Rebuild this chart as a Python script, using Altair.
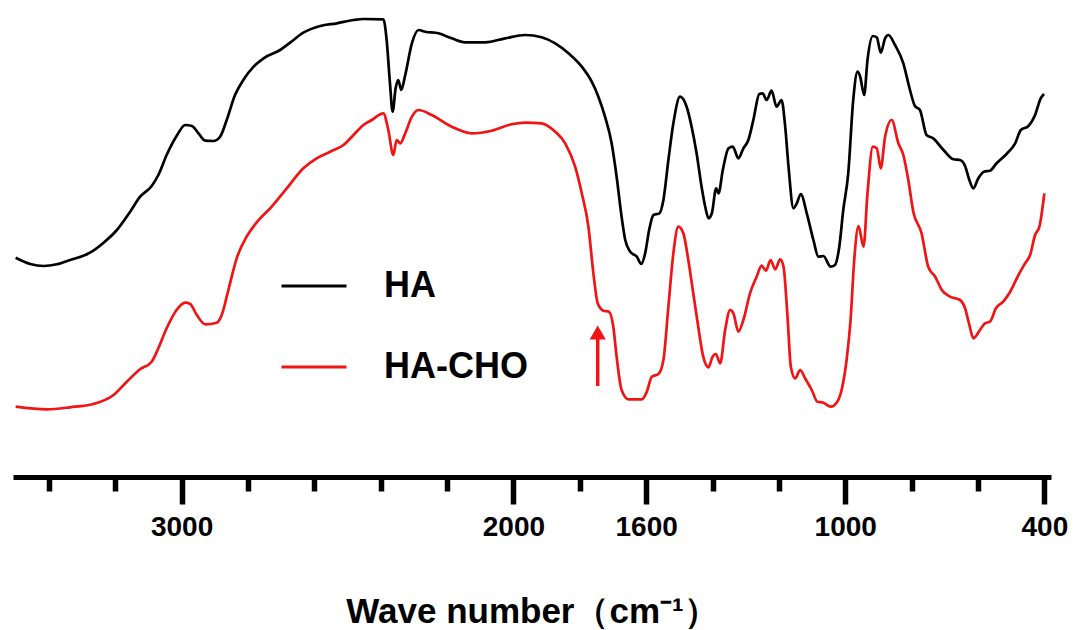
import altair as alt
import pandas as pd

# ---------------- data ----------------
series_names = ["HA", "HA-CHO"]
series_colors = ["#000000", "#f01414"]

ha_wn = [3500, 3456, 3416, 3376, 3336, 3276, 3235, 3195, 3155, 3125, 3090, 3070, 3045, 3015,
         2989, 2969, 2949, 2929, 2904, 2884, 2864, 2839, 2814, 2783, 2753, 2703, 2673, 2633,
         2582, 2532, 2482, 2452, 2392, 2382, 2372, 2364, 2355, 2347, 2338, 2326, 2306, 2286,
         2266, 2226, 2186, 2146, 2085, 2025, 1965, 1915, 1874, 1834, 1794, 1764, 1744, 1724,
         1704, 1689, 1674, 1663, 1648, 1628, 1615, 1603, 1591, 1578, 1560, 1548, 1533, 1518,
         1498, 1478, 1463, 1448, 1433, 1422, 1412, 1402, 1389, 1382, 1369, 1352, 1339, 1322,
         1307, 1292, 1277, 1259, 1249, 1237, 1222, 1207, 1192, 1181, 1171, 1156, 1146, 1134,
         1116, 1096, 1081, 1066, 1044, 1031, 1018, 1006, 991, 976, 963, 955, 943, 933, 917,
         905, 893, 880, 870, 850, 825, 805, 790, 775, 755, 735, 704, 674, 654, 639, 626, 614,
         599, 582, 564, 544, 514, 488, 471, 448, 428, 411, 401]
ha_t = [218.3, 212, 210, 211.7, 216, 223.3, 233.3, 246, 264.3, 279.3, 290, 301, 321, 340,
        351, 350, 342.7, 335.3, 335, 339.3, 356, 381, 396, 409.3, 417.7, 426, 433.3, 443.3,
        450, 452.7, 456, 457, 456.7, 436, 392.7, 364.3, 387.7, 396, 386, 401, 432.7, 446,
        444.3, 442.7, 437.7, 433.7, 433.7, 437.7, 441, 438.7, 432.7, 422.7, 409.3, 394.3, 379.3, 359.3,
        332.7, 299.3, 259.3, 236, 224.3, 219.3, 212, 222.7, 246, 261, 262.7, 276, 316, 352.7,
        379.3, 369.3, 349.3, 322.7, 289.3, 269.3, 257.7, 262.7, 287.7, 282.7, 306, 327.7, 329.3, 317.7,
        327.7, 336, 356, 382, 382.7, 376, 385.3, 369.3, 376, 349.3, 309.3, 267.7, 272.7, 282,
        262.7, 236, 219.3, 220, 209.3, 211, 229.3, 266, 302.7, 376, 404.3, 399.3, 381, 416, 440,
        438.7, 423.3, 437.7, 441, 431, 412.7, 386, 370, 366, 341, 337.7, 326, 316.7, 316, 310, 296, 287.7,
        297.7, 304.3, 305.3, 312.7, 322, 332.7, 346, 350, 361, 377.7, 382]

cho_wn = [3500, 3406, 3336, 3266, 3205, 3165, 3125, 3090, 3070, 3045, 3015, 2989, 2974, 2954,
          2929, 2894, 2879, 2859, 2834, 2804, 2763, 2733, 2683, 2633, 2593, 2552, 2512, 2482,
          2452, 2427, 2392, 2377, 2362, 2352, 2341, 2326, 2306, 2286, 2246, 2186, 2126, 2065,
          2005, 1965, 1915, 1874, 1844, 1814, 1794, 1774, 1759, 1746, 1729, 1712, 1699, 1689,
          1674, 1653, 1613, 1598, 1583, 1563, 1548, 1533, 1518, 1503, 1488, 1473, 1458, 1443,
          1428, 1412, 1400, 1390, 1377, 1362, 1347, 1337, 1322, 1307, 1287, 1267, 1252, 1239,
          1225, 1211, 1196, 1186, 1174, 1164, 1151, 1136, 1121, 1101, 1084, 1066, 1044, 1026,
          1011, 996, 984, 973, 960, 945, 933, 917, 905, 893, 880, 860, 840, 825, 810, 795, 770,
          750, 729, 709, 684, 654, 639, 626, 614, 594, 579, 564, 546, 524, 503, 478, 458, 443,
          428, 415, 400]
cho_t = [69.3, 66.7, 68.7, 72, 81, 94.3, 106.7, 114.3, 127.7, 147.7, 166, 173.3, 172, 161,
         151.7, 153.3, 161, 186, 217.7, 239.3, 257.7, 267.7, 287.7, 307.7, 317.7, 324.3, 331, 341,
         351, 356, 362.7, 346, 321, 336, 332.7, 342.7, 359.3, 366, 361, 349.3, 342.7, 345.3,
         351.7, 353.3, 352.7, 344.3, 332.7, 309.3, 282.7, 249.3, 202.7, 172.7, 165.3, 164.3, 149.3, 119.3,
         86, 76.7, 76.7, 84.3, 99.3, 102, 116, 169.3, 222.7, 249.3, 242.7, 216, 182.7, 149.3,
         119.3, 108.7, 119.3, 122, 112.7, 146, 166, 162.7, 144.3, 156, 182.7, 199.3, 210.3, 205.3,
         216, 206.7, 216.7, 209.3, 159.3, 109.3, 97.7, 106, 97.7, 86, 74.3, 73.3, 69.3, 73.3,
         86, 116, 156, 216, 250, 229.3, 282.7, 329.3, 327.7, 307.7, 339.3, 356, 332.7, 321, 296, 264.3, 242.7,
         209.3, 199.3, 186, 179.3, 176, 167.7, 151, 137.7, 146, 152.7, 154.3, 167.7, 174.3, 184.3, 201, 212.7, 221,
         241, 249.3, 282.7]

tick_values = [3400, 3200, 3000, 2800, 2600, 2400, 2200, 2000, 1800, 1600,
               1400, 1200, 1000, 800, 600, 400]
major_ticks = [3000, 2000, 1600, 1000, 400]

arrow_wn = [1746]
arrow_tail = [90]
arrow_neck = [137]
arrow_head = [143.5]

# ---------------- tables ----------------
df = pd.concat([
    pd.DataFrame({"wn": ha_wn, "t": ha_t, "series": series_names[0]}),
    pd.DataFrame({"wn": cho_wn, "t": cho_t, "series": series_names[1]}),
])
arrow_df = pd.DataFrame({"wn": arrow_wn, "t0": arrow_tail, "t1": arrow_neck, "th": arrow_head})

FONT = "Liberation Sans"
major_test = " || ".join(f"datum.value == {v}" for v in major_ticks)

x_scale = alt.Scale(domain=[3508, 380], nice=False, zero=False)
y_scale = alt.Scale(domain=[-1, 476], nice=False, zero=False)

x_axis = alt.Axis(
    values=tick_values,
    labelExpr=f"({major_test}) ? datum.label : ''",
    format="d",
    title="Wave number（cm⁻¹）",
    domainColor="black", domainWidth=5,
    tickColor="black", tickWidth=5.5,
    tickSize={"condition": {"test": major_test, "value": 27}, "value": 14},
    labelFont=FONT, labelFontSize=28, labelFontWeight="bold", labelColor="black",
    labelPadding=9, labelOverlap=False, labelFlush=False,
    titleFont=FONT, titleFontSize=35, titleFontWeight="bold", titleColor="black",
    titlePadding=53, grid=False,
)

lines = alt.Chart(df).mark_line(strokeWidth=2.7, interpolate="monotone").encode(
    x=alt.X("wn:Q", scale=x_scale, axis=x_axis),
    y=alt.Y("t:Q", scale=y_scale, axis=None),
    color=alt.Color(
        "series:N",
        scale=alt.Scale(domain=series_names, range=series_colors),
        legend=alt.Legend(
            title=None, orient="none", legendX=267, legendY=252,
            symbolType="stroke", symbolSize=4225, symbolStrokeWidth=3,
            labelFont=FONT, labelFontSize=36, labelFontWeight="bold", labelColor="black",
            labelOffset=36, labelLimit=500, rowPadding=29, padding=0,
        ),
    ),
)

shaft = alt.Chart(arrow_df).mark_rule(color=series_colors[1], strokeWidth=3.5).encode(
    x=alt.X("wn:Q", scale=x_scale), y=alt.Y("t0:Q", scale=y_scale, axis=None), y2="t1:Q"
)
head = alt.Chart(arrow_df).mark_point(
    shape="triangle-up", filled=True, size=260, color=series_colors[1], opacity=1
).encode(x=alt.X("wn:Q", scale=x_scale), y=alt.Y("th:Q", scale=y_scale, axis=None))

chart = (
    alt.layer(lines, shaft, head)
    .properties(width=1038, height=477, background="white",
                padding={"left": 10, "top": 0, "right": 0, "bottom": 0})
    .configure_view(strokeWidth=0, stroke=None)
)

chart.save("out.html", embed_options={"renderer": "svg", "actions": False})
